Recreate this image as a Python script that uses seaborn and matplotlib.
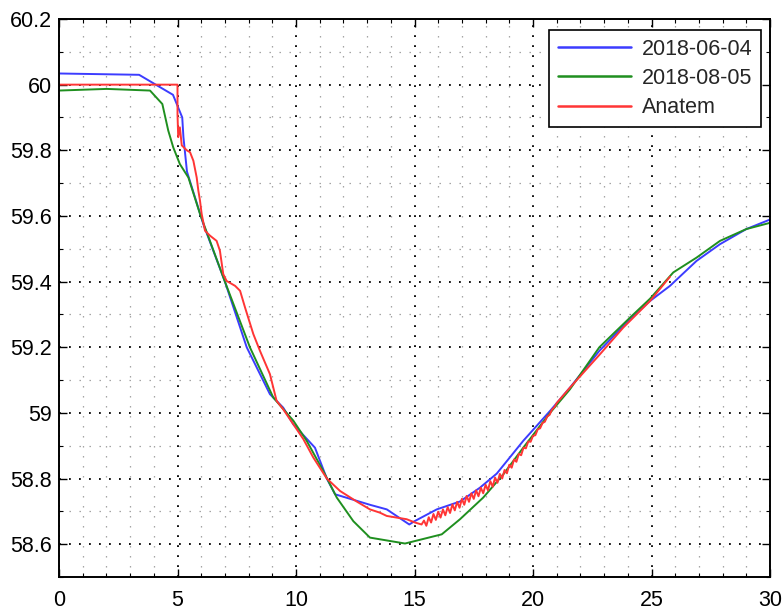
import numpy as np
import pandas as pd
import matplotlib
matplotlib.use("Agg")
import matplotlib.pyplot as plt
import seaborn as sns
from matplotlib.ticker import MultipleLocator
from matplotlib.lines import Line2D

# ---- data ----
blue_x = [0.0, 3.38, 4.81, 5.2, 5.25, 5.4, 6.09, 7.0, 7.92, 8.9, 9.46, 9.89, 10.8, 11.3,
          11.65, 13.12, 13.83, 14.78, 15.0, 15.94, 16.92, 17.76, 18.47, 19.59, 20.72,
          21.56, 22.8, 24.09, 24.94, 25.78, 26.9, 27.89, 29.0, 30.0]
blue_y = [60.034, 60.030, 59.969, 59.90, 59.84, 59.735, 59.575, 59.40, 59.20, 59.057,
          59.016, 58.965, 58.894, 58.80, 58.752, 58.72, 58.706, 58.66, 58.67, 58.706,
          58.73, 58.772, 58.815, 58.915, 59.006, 59.077, 59.189, 59.286, 59.341, 59.387,
          59.463, 59.514, 59.56, 59.589]

green_x = [0.0, 2.01, 3.84, 4.36, 4.61, 4.82, 5.1, 5.46, 5.95, 7.0, 8.06, 9.04, 9.89,
           10.45, 11.15, 11.72, 12.42, 13.12, 14.6, 16.15, 16.92, 17.9, 18.75, 19.59,
           20.72, 21.56, 22.8, 24.09, 24.94, 25.92, 26.9, 27.89, 29.0, 30.0]
green_y = [59.982, 59.987, 59.982, 59.941, 59.86, 59.809, 59.758, 59.717, 59.606, 59.40,
           59.199, 59.047, 58.976, 58.915, 58.823, 58.742, 58.67, 58.62, 58.602, 58.63,
           58.676, 58.742, 58.813, 58.894, 59.0, 59.072, 59.2, 59.29, 59.348, 59.428,
           59.473, 59.524, 59.56, 59.579]

red_x = [0.0, 5.0, 5.0, 5.03, 5.1, 5.18, 5.39, 5.53, 5.67, 5.81, 5.88, 5.95, 6.02, 6.16,
         6.37, 6.65, 6.79, 6.93, 7.07, 7.43, 7.64, 7.85, 8.2, 8.48, 8.9, 9.18, 9.46, 9.89,
         10.31, 10.73, 11.3, 11.86, 12.56, 13.12, 13.54, 13.83, 14.67, 15.02,
         15.3, 15.4, 15.5, 15.6, 15.7, 15.8, 15.9, 16.0, 16.1, 16.2, 16.3, 16.4, 16.5,
         16.6, 16.7, 16.8, 16.9, 17.0, 17.1, 17.2, 17.3, 17.4, 17.5, 17.6, 17.7, 17.8,
         17.9, 18.0, 18.1, 18.2, 18.3, 18.4, 18.5, 18.6, 18.7, 18.8, 18.9, 19.0, 19.1,
         19.2, 19.3, 19.4, 19.5, 19.6, 19.7, 19.8, 19.9, 20.0, 20.1, 20.2, 20.3, 20.4,
         20.5, 20.6, 20.7, 20.8, 20.9, 21.0, 21.56, 22.83, 23.81, 24.94, 25.78]
red_y = [60.0, 60.0, 59.91, 59.84, 59.87, 59.815, 59.80, 59.794, 59.768, 59.717, 59.677,
         59.646, 59.606, 59.555, 59.54, 59.524, 59.494, 59.423, 59.402, 59.387, 59.372,
         59.321, 59.24, 59.189, 59.118, 59.037, 59.011, 58.965, 58.92, 58.864, 58.80,
         58.762, 58.73, 58.706, 58.696, 58.686, 58.676, 58.666,
         58.660, 58.672, 58.656, 58.682, 58.666, 58.692, 58.674, 58.699, 58.681, 58.706,
         58.688, 58.713, 58.695, 58.721, 58.703, 58.729, 58.711, 58.738, 58.720, 58.747,
         58.729, 58.755, 58.738, 58.764, 58.746, 58.772, 58.755, 58.781, 58.764, 58.792,
         58.775, 58.803, 58.787, 58.814, 58.800, 58.826, 58.816, 58.842, 58.833, 58.858,
         58.851, 58.875, 58.871, 58.894, 58.892, 58.913, 58.912, 58.930, 58.932, 58.950,
         58.953, 58.969, 58.973, 58.989, 58.994, 59.010, 59.017, 59.030, 59.077, 59.179,
         59.26, 59.341, 59.415]

series_names = ["2018-06-04", "2018-08-05", "Anatem"]
x_ticks = [0, 5, 10, 15, 20, 25, 30]
y_ticks = [58.6, 58.8, 59.0, 59.2, 59.4, 59.6, 59.8, 60.0, 60.2]
y_tick_labels = ["58.6", "58.8", "59", "59.2", "59.4", "59.6", "59.8", "60", "60.2"]

# ---- build table ----
frames = []
for name, xs, ys in zip(series_names, [blue_x, green_x, red_x], [blue_y, green_y, red_y]):
    frames.append(pd.DataFrame({"t": xs, "f": ys, "series": name}))
df = pd.concat(frames, ignore_index=True)

sns.set_style("white")
plt.rcParams["font.family"] = ["Liberation Sans", "DejaVu Sans"]
plt.rcParams["lines.scale_dashes"] = False

fig = plt.figure(figsize=(7.83, 6.10), dpi=100)
ax = fig.add_axes([59 / 783, 33 / 610, 711 / 783, 558 / 610])

palette = {"2018-06-04": "#3c3cff", "2018-08-05": "#1f8f1f", "Anatem": "#ff3535"}
sns.lineplot(data=df, x="t", y="f", hue="series", palette=palette, sort=False,
             estimator=None, units="series", ax=ax, linewidth=1.4, legend=False)

ax.set_xlim(0, 30)
ax.set_ylim(58.5, 60.2)
ax.set_xticks(x_ticks)
ax.set_xticklabels([str(v) for v in x_ticks])
ax.set_yticks(y_ticks)
ax.set_yticklabels(y_tick_labels)
ax.xaxis.set_minor_locator(MultipleLocator(1))
ax.yaxis.set_minor_locator(MultipleLocator(0.1))
ax.set_xlabel("")
ax.set_ylabel("")

ax.grid(True, which="major", color="black", linestyle=(0, (1.3, 5.9)), linewidth=1.3)
ax.grid(True, which="minor", color="#9a9a9a", linestyle=(0, (1.0, 6.2)), linewidth=0.9)
ax.set_axisbelow(True)

for s in ax.spines.values():
    s.set_visible(True)
    s.set_color("black")
    s.set_linewidth(1.4)

ax.tick_params(which="both", direction="in", top=True, right=True, bottom=True, left=True,
               colors="black", labelsize=15.5)
ax.tick_params(which="major", length=6, width=1.0)
ax.tick_params(which="minor", length=3, width=0.8)
ax.tick_params(axis="x", which="major", pad=9)
ax.tick_params(axis="y", which="major", pad=5)

handles = [Line2D([0], [0], color=palette[n], linewidth=1.8) for n in series_names]
leg = ax.legend(handles, series_names, loc="upper right", bbox_to_anchor=(0.9875, 0.98),
                fontsize=15.5, frameon=True, fancybox=False, framealpha=1,
                edgecolor="black", borderpad=0.4, labelspacing=0.38,
                handlelength=3.4, handletextpad=0.5, borderaxespad=0.0)
leg.get_frame().set_linewidth(1.2)

fig.savefig("out.png", dpi=100)
